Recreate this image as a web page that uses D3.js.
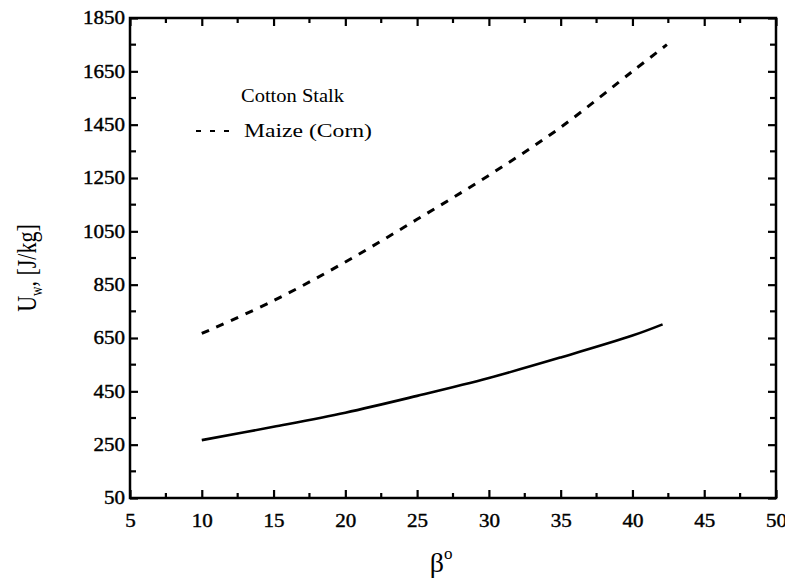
<!DOCTYPE html>
<html>
<head>
<meta charset="utf-8">
<script src="https://cdn.jsdelivr.net/npm/d3@7/dist/d3.min.js"></script>
<style>
  html, body { margin: 0; padding: 0; background: #fff; }
  svg { display: block; }
  text { font-family: "Liberation Serif", "Times New Roman", serif; fill: #000; }
</style>
</head>
<body>
<svg id="chart" width="785" height="583"></svg>
<script>
// ---- data ----
const betaCotton = [10, 15, 20, 25, 30, 35, 40, 42.1];
const uwCotton   = [267, 317, 370, 433, 500, 577, 659, 701];
const betaMaize  = [10, 15, 20, 25, 30, 35, 40, 42.4];
const uwMaize    = [667, 790, 935, 1095, 1260, 1440, 1650, 1750];
const xTicks = [5, 10, 15, 20, 25, 30, 35, 40, 45, 50];
const yTicks = [50, 250, 450, 650, 850, 1050, 1250, 1450, 1650, 1850];
const legendLabels = ["Cotton Stalk", "Maize (Corn)"];

(function () {
// ---- layout ----
const L = 130, R = 776, T = 18, B = 498;
const svg = d3.select("#chart");
const x = d3.scaleLinear().domain([5, 50]).range([L, R]);
const y = d3.scaleLinear().domain([50, 1850]).range([B, T]);

const xMinor = d3.range(7.5, 50, 5);
const yMinor = d3.range(150, 1850, 200);

function styleAxis(g) {
  g.select(".domain").remove();
  g.selectAll(".tick line").attr("stroke", "#000").attr("stroke-width", 2.2);
}

// major ticks (inward) on all sides
const axB = svg.append("g").attr("transform", `translate(0,${B})`)
  .call(d3.axisBottom(x).tickValues(xTicks).tickSizeInner(-8).tickSizeOuter(0).tickPadding(16).tickFormat(d3.format("d")));
styleAxis(axB);
const axL = svg.append("g").attr("transform", `translate(${L},0)`)
  .call(d3.axisLeft(y).tickValues(yTicks).tickSizeInner(-8).tickSizeOuter(0).tickPadding(5).tickFormat(d3.format("d")));
styleAxis(axL);
const axT = svg.append("g").attr("transform", `translate(0,${T})`)
  .call(d3.axisTop(x).tickValues(xTicks).tickSizeInner(-8).tickSizeOuter(0).tickFormat(""));
styleAxis(axT);
const axR = svg.append("g").attr("transform", `translate(${R},0)`)
  .call(d3.axisRight(y).tickValues(yTicks).tickSizeInner(-8).tickSizeOuter(0).tickFormat(""));
styleAxis(axR);

// minor ticks
[[B, -5], [T, 5]].forEach(([yy, s]) => {
  svg.append("g").selectAll("line").data(xMinor).join("line")
    .attr("x1", d => x(d)).attr("x2", d => x(d)).attr("y1", yy).attr("y2", yy + s)
    .attr("stroke", "#000").attr("stroke-width", 2.2);
});
[[L, 6], [R, -6]].forEach(([xx, s]) => {
  svg.append("g").selectAll("line").data(yMinor).join("line")
    .attr("y1", d => y(d)).attr("y2", d => y(d)).attr("x1", xx).attr("x2", xx + s)
    .attr("stroke", "#000").attr("stroke-width", 2.2);
});

// tick label styling
[axB, axL].forEach(g => g.selectAll(".tick text").attr("font-size", 18)
  .attr("font-family", "Liberation Serif").attr("fill", "#000")
  .attr("stroke", "#000").attr("stroke-width", 0.4)
  .attr("textLength", d => String(d).length * 10.5).attr("lengthAdjust", "spacingAndGlyphs"));

// frame
svg.append("rect").attr("x", L).attr("y", T).attr("width", R - L).attr("height", B - T)
  .attr("fill", "none").attr("stroke", "#000").attr("stroke-width", 2.5);

// curves
const line = d3.line().x(d => x(d[0])).y(d => y(d[1])).curve(d3.curveCatmullRom.alpha(0.5));
svg.append("path").datum(d3.zip(betaCotton, uwCotton)).attr("d", line)
  .attr("fill", "none").attr("stroke", "#000").attr("stroke-width", 2.6);
svg.append("path").datum(d3.zip(betaMaize, uwMaize)).attr("d", line)
  .attr("fill", "none").attr("stroke", "#000").attr("stroke-width", 3)
  .attr("stroke-dasharray", "8,8");

// legend
svg.append("text").attr("x", 241).attr("y", 102).attr("font-size", 19)
  .attr("textLength", 103).attr("lengthAdjust", "spacingAndGlyphs")
  .text(legendLabels[0]);
svg.append("line").attr("x1", 196).attr("x2", 238).attr("y1", 131).attr("y2", 131)
  .attr("stroke", "#000").attr("stroke-width", 2).attr("stroke-dasharray", "5,9");
svg.append("text").attr("x", 244).attr("y", 137).attr("font-size", 19)
  .attr("textLength", 128).attr("lengthAdjust", "spacingAndGlyphs")
  .text(legendLabels[1]);

// axis titles
const xt = svg.append("text").attr("x", 441).attr("y", 572).attr("font-size", 28).attr("text-anchor", "middle");
xt.append("tspan").text("β");
xt.append("tspan").attr("font-size", 17).attr("dy", -13).text("o");

const yt = svg.append("text").attr("transform", "translate(36,268) scale(1.25,1) rotate(-90)")
  .attr("font-size", 22).attr("text-anchor", "middle");
yt.append("tspan").text("U");
yt.append("tspan").attr("font-size", 13).attr("dy", 5).text("w");
yt.append("tspan").attr("dy", -5).text(", [J/kg]");
})();
</script>
</body>
</html>
